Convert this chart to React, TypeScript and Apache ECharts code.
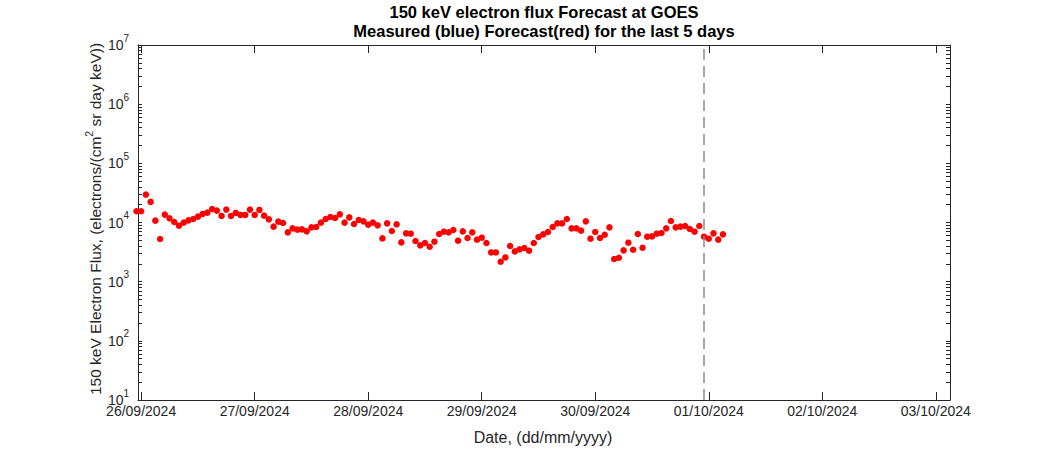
import React, { useEffect, useRef } from "react";
import * as echarts from "echarts";

const HOUR = 3600000;
const FIRST_SAMPLE = Date.UTC(2024, 8, 25, 23, 0);
const X_MIN = Date.UTC(2024, 8, 25, 23, 20);
const X_MAX = Date.UTC(2024, 9, 3, 3, 0);
const FORECAST_START = Date.UTC(2024, 8, 30, 23, 0);

const titleLines = [
  "150 keV electron flux Forecast at GOES",
  "Measured (blue) Forecast(red) for the last 5 days",
];
const xAxisTitle = "Date, (dd/mm/yyyy)";
const yAxisTitle = "150 keV Electron Flux, (electrons/(cm{s|2} sr day keV))";

const xTickLabels = [
  "26/09/2024",
  "27/09/2024",
  "28/09/2024",
  "29/09/2024",
  "30/09/2024",
  "01/10/2024",
  "02/10/2024",
  "03/10/2024",
];
const yMajorTicks = [10, 100, 1000, 10000, 100000, 1000000, 10000000];
const yMinorMultipliers = [2, 3, 4, 5, 6, 7, 8, 9];

// hourly forecast flux values
const flux = [
  15500, 15500, 29600, 22300, 10750, 5260, 13590, 11760, 10220, 8840,
  9940, 10870, 11480, 12560, 13960, 14690, 16950, 15880, 12910, 16520,
  12910, 14510, 13430, 13430, 16520, 13430, 16310, 13060, 11300, 8510,
  10340, 9830, 6810, 7960, 7570, 7660, 7080, 8280, 8410, 9940,
  11480, 12410, 11940, 13740, 9940, 12220, 9450, 11040, 10460, 9200,
  9940, 8950, 5390, 9670, 7190, 9310, 4610, 6550, 6470, 4870,
  4110, 4510, 3900, 4740, 6400, 7000, 6810, 7480, 4930, 7080,
  5470, 6810, 5130, 5540, 4510, 3120, 3120, 2170, 2570, 4010,
  3250, 3510, 3700, 3340, 4510, 5690, 6300, 6920, 8410, 9670,
  9670, 11480, 7960, 7960, 7280, 10460, 5330, 6920, 5470, 6220,
  8280, 2420, 2540, 3380, 4560, 3470, 6400, 3750, 5760, 5820,
  6470, 6650, 7960, 10620, 8280, 8510, 8740, 7780, 7000, 8740,
  5760, 5330, 6550, 5130, 6300,
];

const FONT = "'Liberation Sans', Arial, Helvetica, sans-serif";
const AXIS_COLOR = "#262626";

function parseLabel(s: string): number {
  const [d, m, y] = s.split("/").map(Number);
  return Date.UTC(y, m - 1, d);
}

export default function App() {
  const ref = useRef<HTMLDivElement>(null);
  useEffect(() => {
    if (!ref.current) return;
    const chart = echarts.init(ref.current, null, { renderer: "svg" });
    const xTickTimes = xTickLabels.map(parseLabel);
    const yMinor: number[] = [];
    yMajorTicks.slice(0, -1).forEach((p) => yMinorMultipliers.forEach((m) => yMinor.push(m * p)));
    const yAllTicks = [...yMajorTicks, ...yMinor].sort((a, b) => a - b);
    const seriesData = flux.map((v, i) => [FIRST_SAMPLE + i * HOUR, v]);

    const grid = { left: 138, right: 100, top: 45, bottom: 50 };
    const lineStyle = { color: AXIS_COLOR, width: 1 };

    chart.setOption({
      animation: false,
      backgroundColor: "#ffffff",
      grid,
      xAxis: [
        {
          type: "value",
          min: X_MIN,
          max: X_MAX,
          position: "bottom",
          axisLine: { show: true, lineStyle, onZero: false },
          axisTick: { show: true, inside: true, length: 8, customValues: xTickTimes, lineStyle },
          axisLabel: {
            show: true,
            customValues: xTickTimes,
            margin: 4,
            fontSize: 14,
            fontFamily: FONT,
            color: AXIS_COLOR,
            formatter: (v: number) => {
              const idx = xTickTimes.indexOf(v);
              return idx >= 0 ? xTickLabels[idx] : "";
            },
          },
          splitLine: { show: false },
        },
        {
          type: "value",
          min: X_MIN,
          max: X_MAX,
          position: "top",
          axisLine: { show: true, lineStyle, onZero: false },
          axisTick: { show: true, inside: true, length: 8, customValues: xTickTimes, lineStyle },
          axisLabel: { show: false },
          splitLine: { show: false },
        },
      ],
      yAxis: [
        {
          type: "log",
          logBase: 10,
          min: 10,
          max: 10000000,
          position: "left",
          axisLine: { show: true, lineStyle, onZero: false },
          axisTick: { show: true, inside: true, length: 4, customValues: yAllTicks, lineStyle },
          axisLabel: {
            show: true,
            customValues: yMajorTicks,
            margin: 9,
            formatter: (v: number) => `{b|10}{s|${Math.round(Math.log10(v))}}`,
            rich: {
              b: { fontSize: 14, fontFamily: FONT, color: AXIS_COLOR, lineHeight: 24, verticalAlign: "middle" },
              s: { fontSize: 10, fontFamily: FONT, color: AXIS_COLOR, lineHeight: 10, verticalAlign: "top" },
            },
          },
          splitLine: { show: false },
          minorTick: { show: false },
        },
        {
          type: "log",
          logBase: 10,
          min: 10,
          max: 10000000,
          position: "right",
          axisLine: { show: true, lineStyle, onZero: false },
          axisTick: { show: true, inside: true, length: 4, customValues: yAllTicks, lineStyle },
          axisLabel: { show: false },
          splitLine: { show: false },
        },
      ],
      series: [
        {
          type: "scatter",
          xAxisIndex: 0,
          yAxisIndex: 0,
          clip: false,
          symbol: "circle",
          symbolSize: 6.5,
          itemStyle: { color: "#ff0000", opacity: 1 },
          data: seriesData,
          markLine: {
            silent: true,
            symbol: ["none", "none"],
            label: { show: false },
            lineStyle: { color: "#8c8c8c", type: [11, 6], width: 1.5 },
            data: [{ xAxis: FORECAST_START }],
          },
        },
      ],
      graphic: [
        {
          type: "text",
          x: 544,
          y: 12,
          style: {
            text: titleLines[0],
            fontSize: 16.5,
            fontWeight: "bold",
            fontFamily: FONT,
            fill: "#000000",
            align: "center",
            verticalAlign: "middle",
          },
        },
        {
          type: "text",
          x: 544,
          y: 31,
          style: {
            text: titleLines[1],
            fontSize: 16.5,
            fontWeight: "bold",
            fontFamily: FONT,
            fill: "#000000",
            align: "center",
            verticalAlign: "middle",
          },
        },
        {
          type: "text",
          x: 543,
          y: 437,
          style: {
            text: xAxisTitle,
            fontSize: 16,
            fontFamily: FONT,
            fill: AXIS_COLOR,
            align: "center",
            verticalAlign: "middle",
          },
        },
        {
          type: "text",
          x: 95,
          y: 219,
          rotation: Math.PI / 2,
          style: {
            text: yAxisTitle,
            fontSize: 15.5,
            fontFamily: FONT,
            fill: AXIS_COLOR,
            lineHeight: 24,
            align: "center",
            verticalAlign: "middle",
            rich: {
              s: { fontSize: 10.5, fontFamily: FONT, fill: AXIS_COLOR, lineHeight: 10, verticalAlign: "top" },
            },
          },
        },
      ],
    });
    return () => chart.dispose();
  }, []);
  return (
    <div
      ref={ref}
      style={{ position: "absolute", left: 0, top: 0, width: 1050, height: 450, background: "#fff" }}
    />
  );
}
